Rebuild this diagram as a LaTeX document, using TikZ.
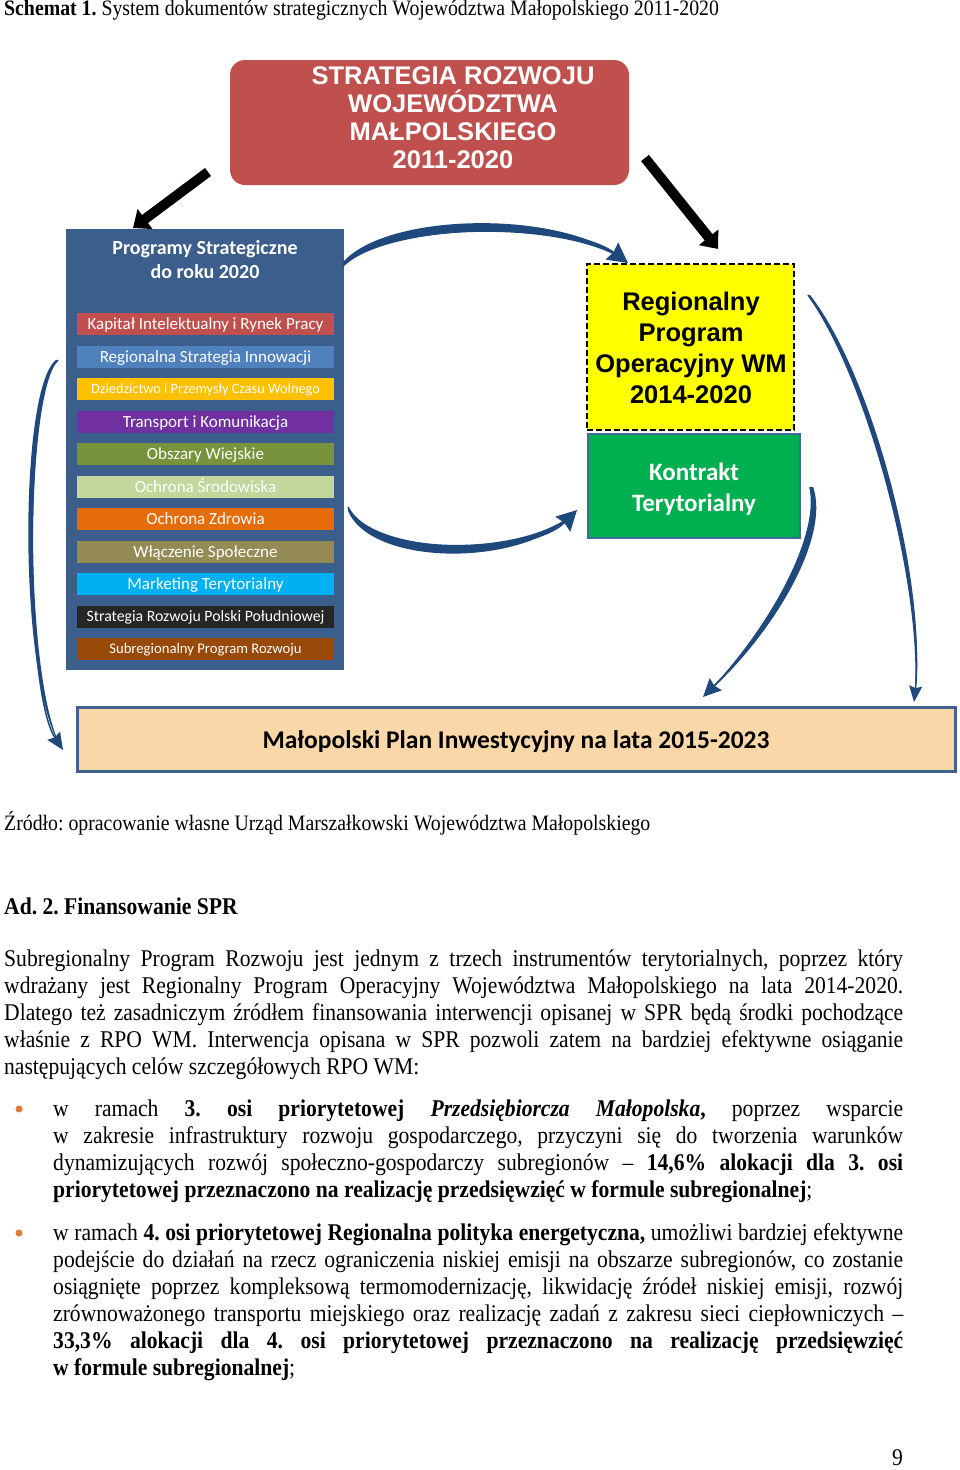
\documentclass[tikz,border=0pt]{standalone}
\usepackage{fontspec}
\setmainfont{Liberation Serif}[FakeStretch=0.9]
\newfontfamily\arialfont{Liberation Sans}
\newfontfamily\calfont{Carlito}
\usetikzlibrary{arrows.meta,calc}
\definecolor{redbox}{HTML}{C0504D}
\definecolor{panelblue}{HTML}{3B5E8C}
\definecolor{c1}{HTML}{C0504D}
\definecolor{c2}{HTML}{4F81BD}
\definecolor{c3}{HTML}{FFC000}
\definecolor{c4}{HTML}{7030A0}
\definecolor{c5}{HTML}{77933C}
\definecolor{c6}{HTML}{C3D69B}
\definecolor{c7}{HTML}{E46C0A}
\definecolor{c8}{HTML}{948A54}
\definecolor{c9}{HTML}{00B0F0}
\definecolor{c10}{HTML}{262626}
\definecolor{c11}{HTML}{984807}
\definecolor{rpoyellow}{HTML}{FFFF00}
\definecolor{ktgreen}{HTML}{00B050}
\definecolor{ktborder}{HTML}{3F6A9A}
\definecolor{peach}{HTML}{FAD7A8}
\definecolor{peachborder}{HTML}{41628E}
\definecolor{arcblue}{HTML}{1F497D}
\definecolor{bulletc}{HTML}{E07B39}
\newcommand{\bluearc}[7]{%
  \fill[arcblue] #1 .. controls #2 and #3 .. #4 .. controls ($#3+#5$) and ($#2+#5$) .. ($#1+0.35*#5$) -- cycle;
  \draw[arcblue, line width=1.5pt, -{Stealth[length=#6,width=#7,inset=2pt]}] #1 .. controls #2 and #3 .. #4;
}
\begin{document}
\begin{tikzpicture}[x=1pt,y=-1pt,
  bar/.style={minimum width=257pt, minimum height=21.7pt, inner sep=0pt, text=white, text depth=0pt},
  body/.style={font=\fontsize{24}{27}\selectfont\frenchspacing, anchor=base west, inner sep=0pt},
  small/.style={font=\fontsize{22}{26}\selectfont\frenchspacing, anchor=base west, inner sep=0pt},
  blackarrow/.style={line width=10pt, -{Triangle[length=15pt,width=24pt]}}
]
\path[use as bounding box, fill=white] (0,0) rectangle (960,1470);

% caption
\node[small] (cap) at (4,15) {\textbf{Schemat 1.} System dokumentów strategicznych Województwa Małopolskiego 2011-2020};

% top red box
\node[fill=redbox, rounded corners=15pt, minimum width=399pt, minimum height=125pt, inner sep=0pt] (srw) at (429.5,122.5) {};
\node[text=white, align=center, inner sep=0pt, font=\arialfont\bfseries\fontsize{25.5}{28}\selectfont] (srwt) at (453,118) {STRATEGIA ROZWOJU\\WOJEWÓDZTWA\\MAŁPOLSKIEGO\\2011-2020};

% left panel
\node[fill=panelblue, minimum width=278pt, minimum height=441pt, inner sep=0pt] (pan) at (205,449.5) {};
\node[text=white, align=center, inner sep=0pt, font=\calfont\bfseries\fontsize{20}{24}\selectfont] (pant) at (205,260) {Programy Strategiczne\\do roku 2020};

\foreach \i/\c/\s/\h/\t in {
  1/c1/17/11/{Kapitał Intelektualny i Rynek Pracy},
  2/c2/17/11/{Regionalna Strategia Innowacji},
  3/c3/14.3/9.2/{Dziedzictwo i Przemysły Czasu Wolnego},
  4/c4/17/11/{Transport i Komunikacja},
  5/c5/17/11/{Obszary Wiejskie},
  6/c6/17/11/{Ochrona Środowiska},
  7/c7/17/11/{Ochrona Zdrowia},
  8/c8/17/11/{Włączenie Społeczne},
  9/c9/17/11/{Marketing Terytorialny},
  10/c10/15.8/10.2/{Strategia Rozwoju Polski Południowej},
  11/c11/14.7/9.5/{Subregionalny Program Rozwoju}} {
  \node[bar, fill=\c, text height=\h pt, font=\calfont\fontsize{\s}{20}\selectfont] (bar\i) at (205.5,{324.2+32.5*(\i-1)}) {\t};
}

% RPO yellow box
\node[fill=rpoyellow, draw=black, line width=1.6pt, dash pattern=on 6pt off 3pt, minimum width=207pt, minimum height=166pt, inner sep=0pt] (rpo) at (690.5,347) {};
\node[align=center, inner sep=0pt, font=\arialfont\bfseries\fontsize{25.5}{31}\selectfont] (rpot) at (691,348) {Regionalny\\Program\\Operacyjny WM\\2014-2020};

% Kontrakt Terytorialny
\node[fill=ktgreen, draw=ktborder, line width=2pt, minimum width=212pt, minimum height=104pt, inner sep=0pt] (kt) at (694,486) {};
\node[text=white, align=center, inner sep=0pt, font=\calfont\bfseries\fontsize{25}{31}\selectfont] (ktt) at (694,489) {Kontrakt\\Terytorialny};

% bottom bar
\node[fill=peach, draw=peachborder, line width=3pt, minimum width=878pt, minimum height=64pt, inner sep=0pt] (mpi) at (516,739) {};
\node[inner sep=0pt, text height=16.4pt, text depth=0pt, font=\calfont\bfseries\fontsize{25.5}{30}\selectfont] (mpit) at (516,740) {Małopolski Plan Inwestycyjny na lata 2015-2023};

% black arrows
\coordinate (bl1) at (208,172);
\coordinate (bl2) at (133,228);
\coordinate (br1) at (645,158);
\coordinate (br2) at (718,249);
\draw[blackarrow] (bl1) -- (bl2);
\draw[blackarrow] (br1) -- (br2);

% blue curved arrows
\coordinate (a1s) at (343,266);
\coordinate (a1e) at (628,263);
\coordinate (a2s) at (348,507);
\coordinate (a2e) at (577,510);
\coordinate (a3s) at (58,360);
\coordinate (a3e) at (63,750);
\coordinate (a4s) at (808,295);
\coordinate (a4e) at (914,702);
\coordinate (a5s) at (810,487);
\coordinate (a5e) at (703,697);
\bluearc{(a1s)}{(388,222)}{(570,220)}{(a1e)}{(0,-11)}{20pt}{21pt}
\bluearc{(a2s)}{(372,557)}{(530,557)}{(a2e)}{(0,11)}{20pt}{21pt}
\bluearc{(a3s)}{(24,390)}{(24,690)}{(a3e)}{(-6,0)}{17pt}{15pt}
\bluearc{(a4s)}{(870,380)}{(925,600)}{(a4e)}{(6,0)}{16pt}{13pt}
\bluearc{(a5s)}{(822,540)}{(760,640)}{(a5e)}{(9,0)}{18pt}{17pt}

% source
\node[small] (src) at (4,830) {Źródło: opracowanie własne Urząd Marszałkowski Województwa Małopolskiego};

% heading
\node[body] (ad2) at (4,914) {\textbf{Ad. 2. Finansowanie SPR}};

% paragraph
\node[body] (p1) at (4,966) {\makebox[899pt][s]{Subregionalny Program Rozwoju jest jednym z trzech instrumentów terytorialnych, poprzez który}};
\node[body] (p2) at (4,993) {\makebox[899pt][s]{wdrażany jest Regionalny Program Operacyjny Województwa Małopolskiego na lata 2014-2020.}};
\node[body] (p3) at (4,1020) {\makebox[899pt][s]{Dlatego też zasadniczym źródłem finansowania interwencji opisanej w SPR będą środki pochodzące}};
\node[body] (p4) at (4,1047) {\makebox[899pt][s]{właśnie z RPO WM. Interwencja opisana w SPR pozwoli zatem na bardziej efektywne osiąganie}};
\node[body] (p5) at (4,1074) {następujących celów szczegółowych RPO WM:};

% bullets
\fill[bulletc] (19,1109) circle (3.5pt);
\fill[bulletc] (19,1233) circle (3.5pt);

\node[body] (b11) at (53,1116) {\makebox[850pt][s]{w ramach \textbf{3. osi priorytetowej} \textbf{\textit{Przedsiębiorcza Małopolska}}\textbf{,} poprzez wsparcie}};
\node[body] (b12) at (53,1143) {\makebox[850pt][s]{w zakresie infrastruktury rozwoju gospodarczego, przyczyni się do tworzenia warunków}};
\node[body] (b13) at (53,1170) {\makebox[850pt][s]{dynamizujących rozwój społeczno-gospodarczy subregionów – \textbf{14,6\% alokacji dla 3. osi}}};
\node[body] (b14) at (53,1197) {\textbf{priorytetowej przeznaczono na realizację przedsięwzięć w formule subregionalnej};};

\node[body] (b21) at (53,1240) {\makebox[850pt][s]{w ramach \textbf{4. osi priorytetowej Regionalna polityka energetyczna,} umożliwi bardziej efektywne}};
\node[body] (b22) at (53,1267) {\makebox[850pt][s]{podejście do działań na rzecz ograniczenia niskiej emisji na obszarze subregionów, co zostanie}};
\node[body] (b23) at (53,1294) {\makebox[850pt][s]{osiągnięte poprzez kompleksową termomodernizację, likwidację źródeł niskiej emisji, rozwój}};
\node[body] (b24) at (53,1321) {\makebox[850pt][s]{zrównoważonego transportu miejskiego oraz realizację zadań z zakresu sieci ciepłowniczych –}};
\node[body] (b25) at (53,1348) {\makebox[850pt][s]{\textbf{33,3\% alokacji dla 4. osi priorytetowej przeznaczono na realizację przedsięwzięć}}};
\node[body] (b26) at (53,1375) {\textbf{w formule subregionalnej};};

% page number
\node[body, anchor=base east] (pg) at (903,1465) {9};
\end{tikzpicture}
\end{document}
